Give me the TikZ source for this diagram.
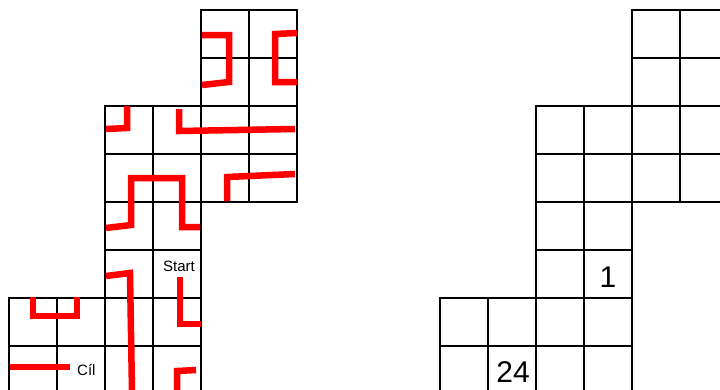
\documentclass[tikz,border=0pt]{standalone}
\usepackage{fontspec}
\setmainfont{Liberation Sans}
\begin{document}
\begin{tikzpicture}[x=1pt,y=-1pt,
  gridline/.style={line width=2.3pt,black},
  redpath/.style={line width=6.5pt,red},
  lbl/.style={inner sep=0pt,font=\fontsize{15}{16}\selectfont},
  num/.style={inner sep=0pt,font=\fontsize{30}{30}\selectfont}]
\useasboundingbox (0,0) rectangle (720,389);
\clip (0,0) rectangle (720,389);
% grids
\foreach \ox in {9,440}{
  \foreach \c/\r in {4/0,5/0,4/1,5/1,2/2,3/2,4/2,5/2,2/3,3/3,4/3,5/3,2/4,3/4,2/5,3/5,0/6,1/6,2/6,3/6,0/7,1/7,2/7,3/7}{
    \draw[gridline] ({\ox+48*\c},{10+48*\r}) rectangle +(48,48);
  }
}
% red paths
\draw[redpath] (202,35) -- (229,35) -- (229,82) -- (202,85);
\draw[redpath] (297,33) -- (275,34) -- (275,82) -- (297,82);
\draw[redpath] (127,106) -- (127,128) -- (106,129);
\draw[redpath] (179,109) -- (179,131) -- (295,129);
\draw[redpath] (106,228) -- (131,225) -- (131,178) -- (182,178) -- (182,227) -- (200,227);
\draw[redpath] (227,201) -- (227,177) -- (295,174);
\draw[redpath] (106,276) -- (130,273) -- (132,392);
\draw[redpath] (180,277) -- (180,324) -- (201,324);
\draw[redpath] (33,297) -- (33,316) -- (77,316) -- (77,297);
\draw[redpath] (10,367) -- (70,367);
\draw[redpath] (196,370) -- (177,371) -- (177,392);
% labels
\node[lbl,anchor=base west] (start) at (163,271) {Start};
\node[lbl,anchor=base west] (cil) at (77,375) {Cíl};
\node[num,anchor=base] (one) at (608,287) {1};
\node[num,anchor=base] (tf) at (513,382) {24};
\end{tikzpicture}
\end{document}
